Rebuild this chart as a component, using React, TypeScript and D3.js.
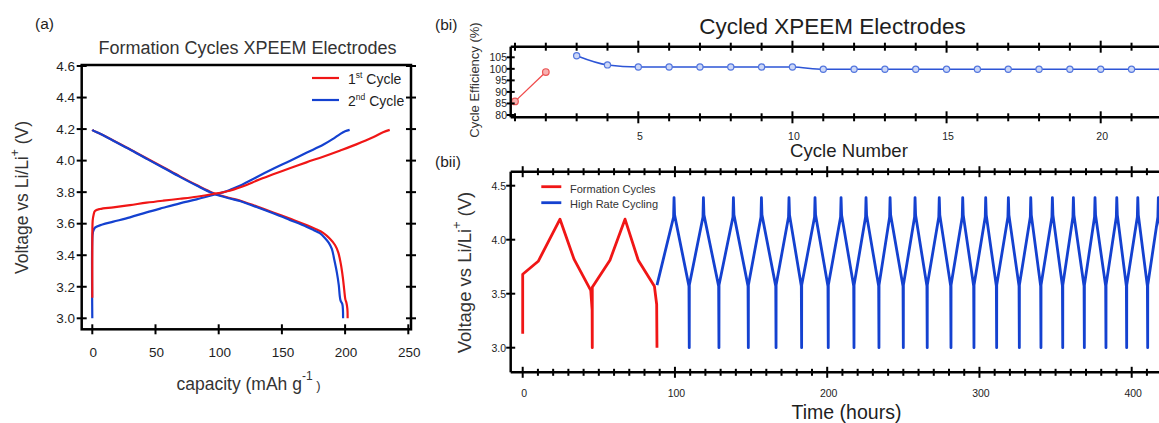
import React from "react";
import * as d3 from "d3";

type Pt = [number, number];

const FONT = "'Liberation Sans', Arial, Helvetica, sans-serif";
const RED = "#f01616";
const BLUE = "#1441d0";
const INK = "#1e1e1e";

// ---------- (a) formation cycles: [capacity (mAh/g), voltage (V)] ----------
const cycle1Charge: Pt[] = [
  [0, 3.13], [0, 3.45], [0.3, 3.62], [1.0, 3.655], [2.1, 3.68], [6.0, 3.693],
  [16.6, 3.704], [29.8, 3.718], [42.9, 3.733], [56.1, 3.746], [69.3, 3.758],
  [82.5, 3.771], [95.6, 3.788], [108.8, 3.809], [122.0, 3.845], [129.9, 3.873],
  [143.1, 3.913], [156.2, 3.951], [169.4, 3.989], [182.6, 4.025], [195.7, 4.063],
  [208.9, 4.103], [222.1, 4.148], [230.0, 4.18], [235.3, 4.195],
];
const cycle1Discharge: Pt[] = [
  [0, 4.195], [0.8, 4.19], [5, 4.175], [16.6, 4.128], [29.8, 4.072], [42.9, 4.015],
  [56.1, 3.958], [69.3, 3.9], [82.5, 3.845], [95.6, 3.795], [108.8, 3.763],
  [116.7, 3.747], [129.9, 3.71], [143.1, 3.671], [156.2, 3.632], [169.4, 3.592],
  [177, 3.565], [182.6, 3.542], [188, 3.505], [192, 3.465], [194.5, 3.42],
  [196.5, 3.35], [198.2, 3.26], [199.3, 3.18], [200.2, 3.12], [201.0, 3.1],
  [201.8, 3.06], [202.0, 3.0],
];
const cycle2Charge: Pt[] = [
  [0, 3.0], [0, 3.5], [0.5, 3.545], [2.1, 3.575], [8, 3.595], [16.6, 3.613],
  [29.8, 3.64], [42.9, 3.672], [56.1, 3.701], [69.3, 3.729], [82.5, 3.754],
  [95.6, 3.782], [104, 3.8], [110, 3.818], [116.7, 3.84], [123, 3.866], [129.9, 3.895],
  [143.1, 3.948], [156.2, 3.998], [169.4, 4.05], [182.6, 4.1], [190.5, 4.138],
  [196.0, 4.168], [200.0, 4.186], [203.6, 4.195],
];
const cycle2Discharge: Pt[] = [
  [0, 4.195], [0.8, 4.19], [5, 4.175], [16.6, 4.126], [29.8, 4.07], [42.9, 4.012],
  [56.1, 3.955], [69.3, 3.897], [82.5, 3.842], [95.6, 3.792], [108.8, 3.76],
  [116.7, 3.744], [129.9, 3.706], [143.1, 3.666], [156.2, 3.624], [169.4, 3.581],
  [175, 3.56], [180, 3.54], [184, 3.51], [187, 3.48], [189.5, 3.44], [191.5, 3.37],
  [193.5, 3.29], [195.0, 3.21], [195.8, 3.14], [196.5, 3.11], [197.8, 3.09],
  [198.3, 3.05], [198.4, 3.0],
];
const capacityTicks = [0, 50, 100, 150, 200, 250];
const voltageTicksA = [3.0, 3.2, 3.4, 3.6, 3.8, 4.0, 4.2, 4.4, 4.6];

// ---------- (bi) cycle efficiency ----------
const formationCycles = [1, 2];
const formationEfficiency = [85.9, 98.6];
const rateCycles = [3, 4, 5, 6, 7, 8, 9, 10, 11, 12, 13, 14, 15, 16, 17, 18, 19, 20, 21, 22];
const rateEfficiency = [
  105.7, 101.7, 100.8, 100.8, 100.8, 100.8, 100.8, 100.8, 99.8, 99.8,
  99.8, 99.8, 99.8, 99.8, 99.8, 99.8, 99.8, 99.8, 99.8, 99.8,
];
const cycleTicks = [1, 2, 3, 4, 5, 6, 7, 8, 9, 10, 11, 12, 13, 14, 15, 16, 17, 18, 19, 20, 21, 22];
const cycleLabels = [5, 10, 15, 20];
const efficiencyTicks = [80, 85, 90, 95, 100, 105];

// ---------- (bii) voltage vs time ----------
const formationTrace: Pt[] = [
  [0, 3.13], [0, 3.68], [10.2, 3.8], [24.5, 4.19], [33.7, 3.82], [44.7, 3.53],
  [45.6, 3.35], [45.7, 3.0], [45.7, 3.56], [57.3, 3.81], [67.2, 4.19], [75.9, 3.81],
  [86.5, 3.57], [88.0, 3.4], [88.2, 3.0],
];
// high-rate cycling: time of each charge cut-off spike and each discharge end (hours)
const rateStart = 88.2;
const ratePeakTimes = [
  99.4, 118.7, 138.4, 156.8, 174.9, 192.0, 209.1, 225.5, 241.3, 257.7, 273.6,
  289.0, 304.1, 319.0, 333.7, 347.9, 361.7, 375.9, 390.2, 404.0, 417.5,
];
const rateDropTimes = [
  109.4, 128.9, 148.2, 166.4, 183.2, 200.7, 217.6, 234.0, 250.0, 265.7, 281.3,
  296.4, 311.3, 326.2, 340.4, 354.7, 368.9, 383.1, 396.7, 410.5, 424.0,
];
// voltage levels of each high-rate cycle (V)
const rateChargeStartV = 3.58;
const rateChargeKneeV = 4.21;
const rateCutoffV = 4.39;
const rateDischargeStartV = 4.23;
const rateDischargeEndV = 3.57;
const rateLowerV = 3.0;
const timeTicks = [0, 10, 20, 30, 40, 50, 60, 70, 80, 90, 100, 110, 120, 130, 140, 150, 160, 170, 180, 190, 200, 210, 220, 230, 240, 250, 260, 270, 280, 290, 300, 310, 320, 330, 340, 350, 360, 370, 380, 390, 400, 410];
const timeLabels = [0, 100, 200, 300, 400];
const voltageTicksB = [3.0, 3.5, 4.0, 4.5];

const rateTrace: Pt[] = [];
{
  let start = rateStart;
  ratePeakTimes.forEach((tp, i) => {
    const td = rateDropTimes[i];
    rateTrace.push(
      [start, rateChargeStartV],
      [tp - 0.3, rateChargeKneeV],
      [tp, rateCutoffV],
      [tp + 0.35, rateDischargeStartV],
      [td - 0.2, rateDischargeEndV],
      [td, rateLowerV]
    );
    start = td + 0.05;
  });
}

// ---------- scales ----------
const xA = d3.scaleLinear().domain([0, 250]).range([92.3, 408.3]);
const yA = d3.scaleLinear().domain([3.0, 4.6]).range([318.3, 66]);
const xBi = d3.scaleLinear().domain([1, 20]).range([515, 1100.7]);
const yBi = d3.scaleLinear().domain([80, 105]).range([115, 57.3]);
const xBii = d3.scaleLinear().domain([0, 400]).range([522.7, 1131.7]);
const yBii = d3.scaleLinear().domain([3, 4.5]).range([347.7, 185.7]);

const lineA = d3
  .line<Pt>()
  .x((d) => xA(d[0]))
  .y((d) => yA(d[1]))
  .curve(d3.curveCatmullRom.alpha(0.5));
const lineBii = d3.line<Pt>().x((d) => xBii(d[0])).y((d) => yBii(d[1]));
const lineBi = d3
  .line<[number, number]>()
  .x((d) => xBi(d[0]))
  .y((d) => yBi(d[1]))
  .curve(d3.curveMonotoneX);

const frameA = { left: 81.7, right: 411, top: 65, bottom: 329.3 };
const frameBi = { left: 510.7, right: 1200, top: 46.7, bottom: 117.3 };
const frameBii = { left: 510.7, right: 1200, top: 171.7, bottom: 372.3 };

export default function App() {
  const formationPts = formationCycles.map((c, i) => [c, formationEfficiency[i]] as [number, number]);
  const ratePts = rateCycles.map((c, i) => [c, rateEfficiency[i]] as [number, number]);

  return (
    <svg
      width={1159}
      height={423}
      viewBox="0 0 1159 423"
      style={{ position: "absolute", left: 0, top: 0, background: "#fff" }}
      fontFamily={FONT}
    >
      <rect x={0} y={0} width={1159} height={423} fill="#fff" />

      {/* ===== (a) ===== */}
      <text x={35} y={29} fontSize={15.5} fill={INK}>(a)</text>
      <text x={247.5} y={54} fontSize={18} fill="#333" textAnchor="middle">
        Formation Cycles XPEEM Electrodes
      </text>
      <g fill="none" strokeLinejoin="round" strokeLinecap="butt">
        <path d={lineA(cycle1Discharge)!} stroke={RED} strokeWidth={2.2} />
        <path d={lineA(cycle2Discharge)!} stroke={BLUE} strokeWidth={2.2} />
        <path d={lineA(cycle2Charge)!} stroke={BLUE} strokeWidth={2.2} />
        <path d={lineA(cycle1Charge)!} stroke={RED} strokeWidth={2.2} />
      </g>
      <rect
        x={frameA.left}
        y={frameA.top}
        width={frameA.right - frameA.left}
        height={frameA.bottom - frameA.top}
        fill="none"
        stroke="#000"
        strokeWidth={2.5}
      />
      <g stroke="#000" strokeWidth={2}>
        {voltageTicksA.map((v) => (
          <g key={"ya" + v}>
            <line x1={frameA.left - 5} x2={frameA.left + 5} y1={yA(v)} y2={yA(v)} />
            <line x1={frameA.right - 5} x2={frameA.right + 5} y1={yA(v)} y2={yA(v)} />
          </g>
        ))}
        {capacityTicks.map((c) => (
          <line key={"xa" + c} x1={xA(c)} x2={xA(c)} y1={frameA.bottom - 5} y2={frameA.bottom + 5} />
        ))}
      </g>
      <g fontSize={13.5} fill={INK}>
        {voltageTicksA.map((v) => (
          <text key={"yal" + v} x={75} y={yA(v) + 4.8} textAnchor="end">{v.toFixed(1)}</text>
        ))}
        {capacityTicks.map((c) => (
          <text key={"xal" + c} x={xA(c) + 1} y={357} textAnchor="middle">{c}</text>
        ))}
      </g>
      <text x={248.5} y={390} fontSize={17.5} fill="#333" textAnchor="middle">
        capacity (mAh g
        <tspan fontSize={12} dy={-10}>-1</tspan>
        <tspan dy={10} fontSize={13}> )</tspan>
      </text>
      <text
        transform="translate(28,197.5) rotate(-90)"
        fontSize={17.5}
        fill="#333"
        textAnchor="middle"
      >
        Voltage vs Li/Li
        <tspan fontSize={12} dy={-9}>+</tspan>
        <tspan dy={9}> (V)</tspan>
      </text>
      {/* legend (a) */}
      <line x1={312} x2={339} y1={78} y2={78} stroke={RED} strokeWidth={2.2} />
      <line x1={312} x2={339} y1={100} y2={100} stroke={BLUE} strokeWidth={2.2} />
      <text x={348} y={84} fontSize={14} fill={INK}>
        1<tspan fontSize={8.5} dy={-6}>st</tspan>
        <tspan dy={6}> Cycle</tspan>
      </text>
      <text x={348} y={106} fontSize={14} fill={INK}>
        2<tspan fontSize={8.5} dy={-6}>nd</tspan>
        <tspan dy={6}> Cycle</tspan>
      </text>

      {/* ===== (bi) ===== */}
      <text x={435} y={30} fontSize={15.5} fill={INK}>(bi)</text>
      <text x={832.5} y={34.3} fontSize={22.5} fill={INK} textAnchor="middle">
        Cycled XPEEM Electrodes
      </text>
      <g fill="none">
        <path d={lineBi(formationPts)!} stroke="#f04a4a" strokeWidth={1.3} />
        <path d={lineBi(ratePts)!} stroke="#2d55d6" strokeWidth={1.5} />
      </g>
      {formationPts.map((p) => (
        <circle key={"fc" + p[0]} cx={xBi(p[0])} cy={yBi(p[1])} r={3.3} fill="#f7b0b0" stroke="#ec5555" strokeWidth={1.2} />
      ))}
      {ratePts.map((p) => (
        <circle key={"rc" + p[0]} cx={xBi(p[0])} cy={yBi(p[1])} r={3.1} fill="#ccd7f7" stroke="#5376de" strokeWidth={1.2} />
      ))}
      <g stroke="#000" strokeWidth={2.5} fill="none">
        <line x1={frameBi.left} x2={frameBi.right} y1={frameBi.top} y2={frameBi.top} />
        <line x1={frameBi.left} x2={frameBi.right} y1={frameBi.bottom} y2={frameBi.bottom} />
        <line x1={frameBi.left} x2={frameBi.left} y1={frameBi.top} y2={frameBi.bottom} />
      </g>
      <g stroke="#000" strokeWidth={2}>
        {cycleTicks.map((c) => {
          const len = c % 5 === 0 ? 6 : 4;
          return (
            <g key={"bt" + c}>
              <line x1={xBi(c)} x2={xBi(c)} y1={frameBi.top - len} y2={frameBi.top + len} />
              <line x1={xBi(c)} x2={xBi(c)} y1={frameBi.bottom - len} y2={frameBi.bottom + len} />
            </g>
          );
        })}
        {efficiencyTicks.map((v) => (
          <line key={"be" + v} x1={frameBi.left - 4} x2={frameBi.left + 4} y1={yBi(v)} y2={yBi(v)} />
        ))}
      </g>
      <g fontSize={10.5} fill={INK}>
        {efficiencyTicks.map((v) => (
          <text key={"bel" + v} x={507} y={yBi(v) + 3.8} textAnchor="end">{v}</text>
        ))}
        {cycleLabels.map((c) => (
          <text key={"bcl" + c} x={xBi(c) + 1.5} y={140} textAnchor="middle">{c}</text>
        ))}
      </g>
      <text x={849} y={156.7} fontSize={18.6} fill={INK} textAnchor="middle">Cycle Number</text>
      <text transform="translate(479,80) rotate(-90)" fontSize={13} fill="#333" textAnchor="middle">
        Cycle Efficiency (%)
      </text>

      {/* ===== (bii) ===== */}
      <text x={435} y={167} fontSize={15.5} fill={INK}>(bii)</text>
      <g fill="none" strokeLinejoin="round">
        <path d={lineBii(formationTrace)!} stroke={RED} strokeWidth={2.8} />
        <path d={lineBii(rateTrace)!} stroke={BLUE} strokeWidth={2.8} />
      </g>
      <g stroke="#000" strokeWidth={2.5} fill="none">
        <line x1={frameBii.left} x2={frameBii.right} y1={frameBii.top} y2={frameBii.top} />
        <line x1={frameBii.left} x2={frameBii.right} y1={frameBii.bottom} y2={frameBii.bottom} />
        <line x1={frameBii.left} x2={frameBii.left} y1={frameBii.top} y2={frameBii.bottom} />
      </g>
      <g stroke="#000" strokeWidth={2}>
        {timeTicks.map((t) => {
          const len = t % 100 === 0 ? 5.5 : 3.5;
          return (
            <g key={"tt" + t}>
              <line x1={xBii(t)} x2={xBii(t)} y1={frameBii.top - len} y2={frameBii.top + len} />
              <line x1={xBii(t)} x2={xBii(t)} y1={frameBii.bottom - len} y2={frameBii.bottom + len} />
            </g>
          );
        })}
        {voltageTicksB.map((v) => (
          <line key={"vt" + v} x1={frameBii.left - 4.5} x2={frameBii.left + 4.5} y1={yBii(v)} y2={yBii(v)} />
        ))}
      </g>
      <g fontSize={10.5} fill={INK}>
        {voltageTicksB.map((v) => (
          <text key={"vtl" + v} x={506} y={yBii(v) + 3.8} textAnchor="end">{v.toFixed(1)}</text>
        ))}
        {timeLabels.map((t) => (
          <text key={"ttl" + t} x={xBii(t) + 1.5} y={397} textAnchor="middle">{t}</text>
        ))}
      </g>
      <text x={846.5} y={419} fontSize={19.5} fill={INK} textAnchor="middle">Time (hours)</text>
      <text transform="translate(471,272.5) rotate(-90)" fontSize={18.5} fill="#333" textAnchor="middle">
        Voltage vs Li/Li
        <tspan fontSize={12.5} dy={-10}>+</tspan>
        <tspan dy={10}> (V)</tspan>
      </text>
      {/* legend (bii) */}
      <line x1={541.3} x2={561.3} y1={186.7} y2={186.7} stroke={RED} strokeWidth={2.8} />
      <line x1={541.3} x2={561.3} y1={202.7} y2={202.7} stroke={BLUE} strokeWidth={2.8} />
      <text x={570} y={192.5} fontSize={11} fill="#333">Formation Cycles</text>
      <text x={570} y={208} fontSize={11} fill="#333">High Rate Cycling</text>
    </svg>
  );
}
